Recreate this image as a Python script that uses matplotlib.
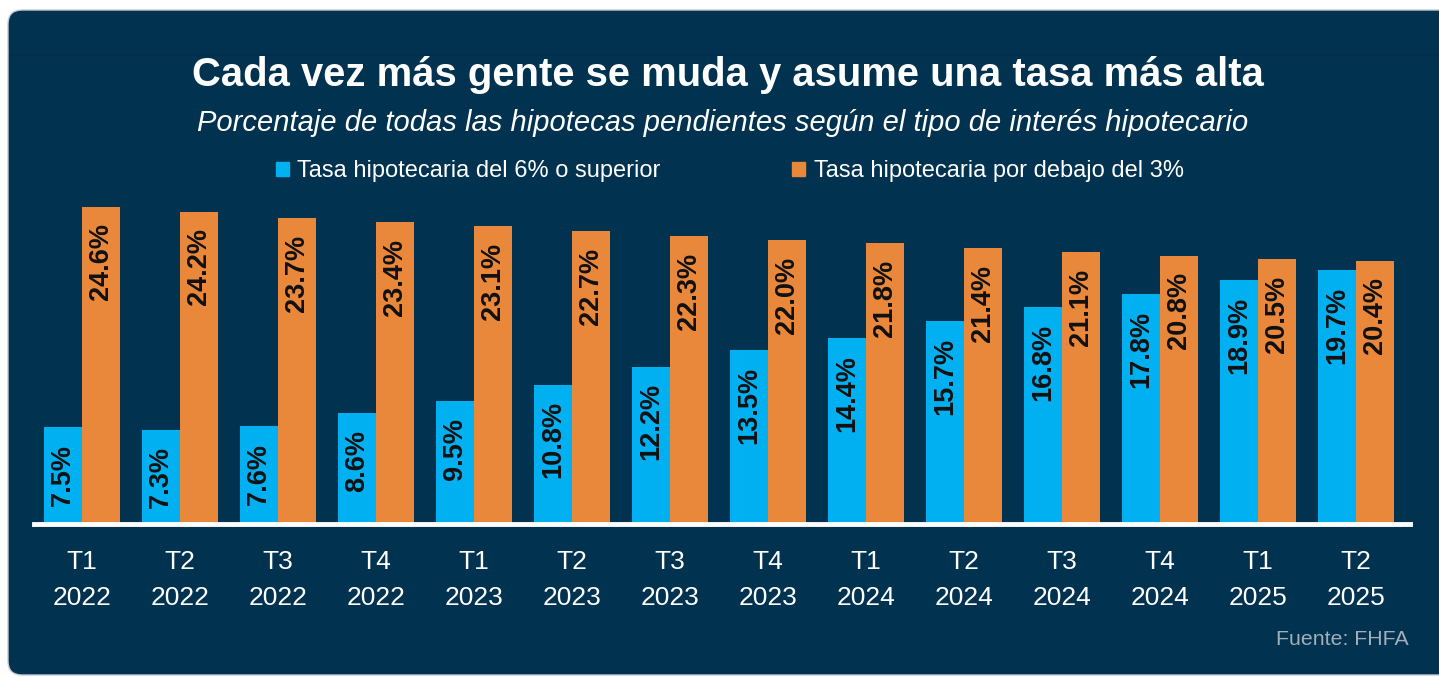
import matplotlib
matplotlib.use("Agg")
import matplotlib.pyplot as plt
from matplotlib.patches import FancyBboxPatch, Patch
import numpy as np

plt.rcParams['font.family'] = ['Liberation Sans', 'DejaVu Sans']

quarters = ["T1\n2022", "T2\n2022", "T3\n2022", "T4\n2022",
            "T1\n2023", "T2\n2023", "T3\n2023", "T4\n2023",
            "T1\n2024", "T2\n2024", "T3\n2024", "T4\n2024",
            "T1\n2025", "T2\n2025"]
above_6 = [7.5, 7.3, 7.6, 8.6, 9.5, 10.8, 12.2, 13.5, 14.4, 15.7, 16.8, 17.8, 18.9, 19.7]
below_3 = [24.6, 24.2, 23.7, 23.4, 23.1, 22.7, 22.3, 22.0, 21.8, 21.4, 21.1, 20.8, 20.5, 20.4]

navy = "#01324F"
blue = "#00B0F0"
orange = "#E9883A"

W, H = 1439, 677
fig = plt.figure(figsize=(W / 100, H / 100), dpi=100, facecolor="white")

# rounded navy card
card = FancyBboxPatch((8, 2), W + 20, H - 12, boxstyle="round,pad=0,rounding_size=14",
                      transform=None, facecolor=navy, edgecolor="#C5CBD1", lw=1, zorder=-5)
fig.patches.append(card)
fig.add_artist(plt.Line2D([12 / W, 1], [622 / H, 622 / H], transform=fig.transFigure,
                          color="#012E49", lw=1.5, zorder=-4))

ax = fig.add_axes([34 / W, 153 / H, 1376 / W, 320 / H])
ax.set_facecolor("none")

x = np.arange(len(quarters))
bw = 0.388
b1 = ax.bar(x - bw / 2, above_6, bw, color=blue, label="Tasa hipotecaria del 6% o superior", zorder=2)
b2 = ax.bar(x + bw / 2, below_3, bw, color=orange, label="Tasa hipotecaria por debajo del 3%", zorder=2)

for bars, vals in ((b1, above_6), (b2, below_3)):
    for r, v in zip(bars, vals):
        ax.annotate(f"{v:.1f}%", (r.get_x() + r.get_width() / 2, v), xytext=(0, -12),
                    textcoords="offset points", rotation=90, ha="center", va="top",
                    fontsize=19.5, fontweight="bold", color="#111111", zorder=3)

ax.axhline(0, color="white", lw=3.5, zorder=4, clip_on=False)
ax.set_xlim(-0.49, 13.55)
ax.set_ylim(0, 24.8)
ax.set_xticks(x)
ax.set_xticklabels(quarters, color="white", fontsize=19, linespacing=1.6)
ax.tick_params(axis="x", length=0, pad=19)
ax.set_yticks([])
for s in ax.spines.values():
    s.set_visible(False)

fig.text(0.506, 0.889, "Cada vez más gente se muda y asume una tasa más alta",
         ha="center", va="center", fontsize=28.8, fontweight="bold", color="white")
fig.text(0.5025, 0.819, "Porcentaje de todas las hipotecas pendientes según el tipo de interés hipotecario",
         ha="center", va="center", fontsize=21, style="italic", color="white")

handles = [Patch(color=blue), Patch(color=orange)]
leg = fig.legend(handles, [b1.get_label(), b2.get_label()], ncol=2, loc="center",
                 bbox_to_anchor=(0.507, 0.747), frameon=False, fontsize=17,
                 handlelength=0.55, handleheight=0.55, handletextpad=0.35,
                 columnspacing=5.6, labelcolor="white")

fig.text(1409 / W, 0.055, "Fuente: FHFA", ha="right", va="center", fontsize=15.3, color="#A3AEBA")

fig.savefig("out.png", dpi=100, facecolor="white")
